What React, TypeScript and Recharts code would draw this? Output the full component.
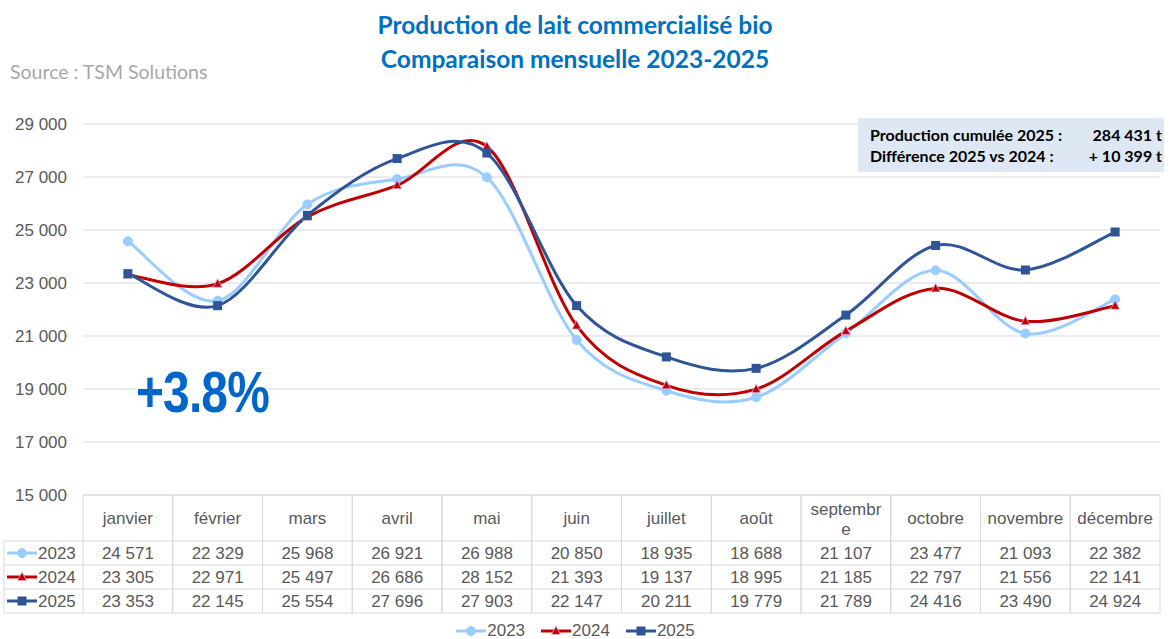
import React from "react"
import { LineChart, Line, XAxis, YAxis, CartesianGrid, Legend } from "recharts"

const months = ["janvier", "février", "mars", "avril", "mai", "juin", "juillet", "août", "septembre", "octobre", "novembre", "décembre"]
const prod2023 = [24571, 22329, 25968, 26921, 26988, 20850, 18935, 18688, 21107, 23477, 21093, 22382]
const prod2024 = [23305, 22971, 25497, 26686, 28152, 21393, 19137, 18995, 21185, 22797, 21556, 22141]
const prod2025 = [23353, 22145, 25554, 27696, 27903, 22147, 20211, 19779, 21789, 24416, 23490, 24924]
const yTicks = [15000, 17000, 19000, 21000, 23000, 25000, 27000, 29000]

const series = [
  { key: "y2023", name: "2023", color: "#99CCFF", marker: "circle" },
  { key: "y2024", name: "2024", color: "#C00000", marker: "triangle" },
  { key: "y2025", name: "2025", color: "#2F5597", marker: "square" },
]

const data = months.map((m, i) => ({ month: m, y2023: prod2023[i], y2024: prod2024[i], y2025: prod2025[i] }))

const W = 1173
const H = 639
const PLOT_LEFT = 83
const PLOT_RIGHT = 13
const COL_W = (W - PLOT_LEFT - PLOT_RIGHT) / months.length
const HEAD_H = 46
const ROW_H = 24
const GRID = "#D9D9D9"
const TXT = "#595959"
const FONT = "'Liberation Sans', Arial, sans-serif"
const TITLE_FONT = "Lato, 'Open Sans', sans-serif"

const fmt = (v: number) => String(v).replace(/\B(?=(\d{3})+(?!\d))/g, " ")

// smoothing close to Excel's "smoothed line"
const excelSmooth: any = (context: any) => {
  let pts: number[][] = []
  return {
    areaStart() {},
    areaEnd() {},
    lineStart() { pts = [] },
    point(x: number, y: number) { pts.push([+x, +y]) },
    lineEnd() {
      if (!pts.length) return
      context.moveTo(pts[0][0], pts[0][1])
      for (let i = 0; i < pts.length - 1; i++) {
        const p0 = pts[i - 1] || pts[i]
        const p1 = pts[i]
        const p2 = pts[i + 1]
        const p3 = pts[i + 2] || p2
        context.bezierCurveTo(
          p1[0] + (p2[0] - p0[0]) / 6, p1[1] + (p2[1] - p0[1]) / 6,
          p2[0] - (p3[0] - p1[0]) / 6, p2[1] - (p3[1] - p1[1]) / 6,
          p2[0], p2[1]
        )
      }
    },
  }
}

function Marker({ type, cx, cy, color }: { type: string; cx: number; cy: number; color: string }) {
  if (type === "circle") return <circle cx={cx} cy={cy} r={4.5} fill={color} stroke={color} />
  if (type === "triangle")
    return <polygon points={`${cx},${cy - 5} ${cx + 4.5},${cy + 3.5} ${cx - 4.5},${cy + 3.5}`} fill={color} stroke="#D9B3E6" strokeWidth={0.8} />
  return <rect x={cx - 4.5} y={cy - 4.5} width={9} height={9} fill={color} />
}

function KeySymbol({ x, y, s }: { x: number; y: number; s: (typeof series)[number] }) {
  return (
    <g>
      <line x1={x} y1={y} x2={x + 30} y2={y} stroke={s.color} strokeWidth={3} />
      <Marker type={s.marker} cx={x + 15} cy={y} color={s.color} />
    </g>
  )
}

const yearValues: Record<string, number[]> = { y2023: prod2023, y2024: prod2024, y2025: prod2025 }

function TableTick(props: any) {
  const { x, y, payload, index } = props
  const left = x - COL_W / 2
  const label: string = payload.value
  const lines = label === "septembre" ? ["septembr", "e"] : [label]
  return (
    <g fontFamily={FONT} fontSize={17} fill={TXT}>
      <line x1={left} y1={y} x2={left} y2={y + HEAD_H + ROW_H * 3} stroke={GRID} />
      <line x1={left + COL_W} y1={y} x2={left + COL_W} y2={y + HEAD_H + ROW_H * 3} stroke={GRID} />
      <line x1={left} y1={y} x2={left + COL_W} y2={y} stroke={GRID} />
      {lines.map((l, k) => (
        <text key={k} x={x} y={y + (lines.length === 1 ? 29 : 20 + k * 20)} textAnchor="middle">{l}</text>
      ))}
      {series.map((s, r) => (
        <g key={s.key}>
          <line x1={left} y1={y + HEAD_H + r * ROW_H} x2={left + COL_W} y2={y + HEAD_H + r * ROW_H} stroke={GRID} />
          <text x={x} y={y + HEAD_H + r * ROW_H + 18} textAnchor="middle">{fmt(yearValues[s.key][index])}</text>
        </g>
      ))}
      <line x1={left} y1={y + HEAD_H + 3 * ROW_H} x2={left + COL_W} y2={y + HEAD_H + 3 * ROW_H} stroke={GRID} />
      {index === 0 && (
        <g>
          <line x1={4} y1={y + HEAD_H} x2={left} y2={y + HEAD_H} stroke={GRID} />
          <line x1={4} y1={y + HEAD_H} x2={4} y2={y + HEAD_H + 3 * ROW_H} stroke={GRID} />
          {series.map((s, r) => (
            <g key={s.key}>
              <line x1={4} y1={y + HEAD_H + (r + 1) * ROW_H} x2={left} y2={y + HEAD_H + (r + 1) * ROW_H} stroke={GRID} />
              <KeySymbol x={7} y={y + HEAD_H + r * ROW_H + 12} s={s} />
              <text x={38} y={y + HEAD_H + r * ROW_H + 18}>{s.name}</text>
            </g>
          ))}
        </g>
      )}
    </g>
  )
}

function LegendContent() {
  return (
    <div style={{ display: "flex", justifyContent: "center", gap: 15, fontFamily: FONT, fontSize: 17, color: TXT, paddingTop: 8, paddingRight: 10 }}>
      {series.map((s) => (
        <div key={s.key} style={{ display: "flex", alignItems: "center" }}>
          <svg width={32} height={12}>
            <KeySymbol x={1} y={6} s={s} />
          </svg>
          <span>{s.name}</span>
        </div>
      ))}
    </div>
  )
}

export default function App() {
  return (
    <div style={{ position: "absolute", left: 0, top: 0, width: W, height: H, background: "#fff" }}>
      <div style={{ position: "absolute", left: 0, top: 8, width: 1150, textAlign: "center", fontFamily: TITLE_FONT, fontWeight: 700, fontSize: 24.5, color: "#0070C0", lineHeight: "34px" }}>
        <div>Production de lait commercialisé bio</div>
        <div>Comparaison mensuelle 2023-2025</div>
      </div>
      <div style={{ position: "absolute", left: 10, top: 60, fontFamily: TITLE_FONT, fontSize: 19.5, color: "#A6A6A6" }}>
        Source : TSM Solutions
      </div>
      <LineChart width={W} height={H} data={data} margin={{ top: 124, right: PLOT_RIGHT, left: 0, bottom: 0 }}>
        <CartesianGrid vertical={false} stroke={GRID} strokeWidth={1.2} />
        <XAxis
          dataKey="month"
          axisLine={false}
          tickLine={false}
          tickSize={0}
          tickMargin={0}
          height={118}
          interval={0}
          padding={{ left: COL_W / 2, right: COL_W / 2 }}
          tick={<TableTick />}
        />
        <YAxis
          width={PLOT_LEFT}
          domain={[15000, 29000]}
          ticks={yTicks}
          axisLine={false}
          tickLine={false}
          tickSize={0}
          tickMargin={16}
          tickFormatter={fmt}
          tick={{ fontFamily: FONT, fontSize: 17, fill: TXT }}
        />
        {series.map((s) => (
          <Line
            key={s.key}
            dataKey={s.key}
            name={s.name}
            type={excelSmooth}
            stroke={s.color}
            strokeWidth={3}
            isAnimationActive={false}
            dot={(p: any) => <Marker key={`${s.key}-${p.index}`} type={s.marker} cx={p.cx} cy={p.cy} color={s.color} />}
            activeDot={false}
          />
        ))}
        <Legend verticalAlign="bottom" height={26} content={<LegendContent />} />
      </LineChart>
      <div style={{ position: "absolute", left: 136, top: 364, background: "#fff", fontFamily: FONT, fontWeight: 700, fontSize: 57, color: "#0066CC", lineHeight: "56px", transform: "scaleX(0.84)", transformOrigin: "left center", letterSpacing: -1 }}>
        +3.8%
      </div>
      <div style={{ position: "absolute", left: 858, top: 118, width: 306, height: 54, background: "#DEE8F4", fontFamily: TITLE_FONT, fontWeight: 700, fontSize: 16, color: "#000", boxSizing: "border-box", padding: "6px 2px 0 12px", lineHeight: "21px" }}>
        <div style={{ display: "flex", justifyContent: "space-between" }}>
          <span>Production cumulée 2025 :</span>
          <span>284 431 t</span>
        </div>
        <div style={{ display: "flex", justifyContent: "space-between" }}>
          <span>Différence 2025 vs 2024 :</span>
          <span>+ 10 399 t</span>
        </div>
      </div>
    </div>
  )
}
